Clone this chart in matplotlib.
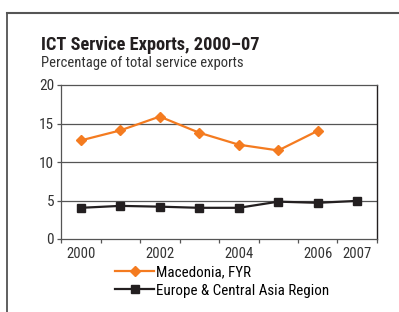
import matplotlib
matplotlib.use("Agg")
import matplotlib.pyplot as plt
from matplotlib import font_manager
from matplotlib.lines import Line2D

avail = {f.name for f in font_manager.fontManager.ttflist}
candidates = ["Roboto Condensed", "Archivo Narrow", "Liberation Sans Narrow", "PT Sans Narrow",
              "Open Sans Condensed", "Pragati Narrow", "Asap Condensed", "Encode Sans Condensed"]
fam = next((c for c in candidates if c in avail), "DejaVu Sans")
plt.rcParams['font.family'] = [fam, 'DejaVu Sans']

years = ["2000", "2001", "2002", "2003", "2004", "2005", "2006", "2007"]
shown_labels = ["2000", "", "2002", "", "2004", "", "2006", "2007"]
macedonia = [12.8, 14.1, 15.9, 13.8, 12.25, 11.5, 14.05, None]
eca = [4.05, 4.3, 4.2, 4.05, 4.05, 4.85, 4.7, 4.95]
yticks = [0, 5, 10, 15, 20]

orange = "#F47B20"
dark = "#231F20"
grid = "#555555"

fig = plt.figure(figsize=(3.99, 3.12), dpi=100)
fig.add_artist(Line2D([7/399, 7/399], [0, 1 - 12.5/312], color="#444444", lw=1.2, transform=fig.transFigure))
fig.add_artist(Line2D([7/399, 1], [1 - 12.5/312, 1 - 12.5/312], color="#555555", lw=1.5, transform=fig.transFigure))

ax = fig.add_axes([61/399, 1 - 239/312, (377 - 61)/399, (239 - 85)/312])
x = list(range(len(years)))
mx = [i for i, v in zip(x, macedonia) if v is not None]
my = [v for v in macedonia if v is not None]
ax.plot(mx, my, color=orange, lw=1.6, marker="D", ms=5.5, mec=orange, mfc=orange, zorder=3)
ax.plot(x, eca, color=dark, lw=1.6, marker="s", ms=5.5, mec=dark, mfc=dark, zorder=3)

ax.set_xlim(-0.5, 7.5)
ax.set_ylim(0, 20)
ax.set_yticks(yticks)
ax.set_yticklabels([str(t) for t in yticks], fontsize=11, color="#333333")
for t in yticks[1:4]:
    ax.axhline(t, color=grid, lw=0.9, zorder=1)
ax.set_xticks([i - 0.5 for i in range(len(years) + 1)])
ax.set_xticklabels([])
ax.set_xticks(x, minor=True)
ax.set_xticklabels(shown_labels, minor=True, fontsize=10.5, color="#333333")
ax.tick_params(axis="x", which="major", length=3, width=0.9, color=grid, direction="out")
ax.tick_params(axis="x", which="minor", length=0, pad=6)
ax.tick_params(axis="y", length=3, width=0.9, color=grid, pad=2)
for s in ["left", "bottom", "top"]:
    ax.spines[s].set_color(grid)
    ax.spines[s].set_linewidth(0.9)
ax.spines["right"].set_color(dark)
ax.spines["right"].set_linewidth(1.0)

fig.text(41/399, 1 - 50.5/312, "ICT Service Exports, 2000–07", fontsize=13.2, fontweight="bold", color="#231F20")
fig.text(41/399, 1 - 67.5/312, "Percentage of total service exports", fontsize=10.5, color="#333333")

handles = [Line2D([], [], color=orange, lw=1.6, marker="D", ms=5.5, mec=orange, mfc=orange),
           Line2D([], [], color=dark, lw=1.6, marker="s", ms=5.5, mec=dark, mfc=dark)]
fig.legend(handles, ["Macedonia, FYR", "Europe & Central Asia Region"], loc="upper left",
           bbox_to_anchor=(115/399, 1 - 265/312), frameon=False, fontsize=10.8,
           handlelength=2.6, handletextpad=0.1, labelspacing=0.3, borderaxespad=0, borderpad=0)

fig.savefig("out.png", dpi=100)
